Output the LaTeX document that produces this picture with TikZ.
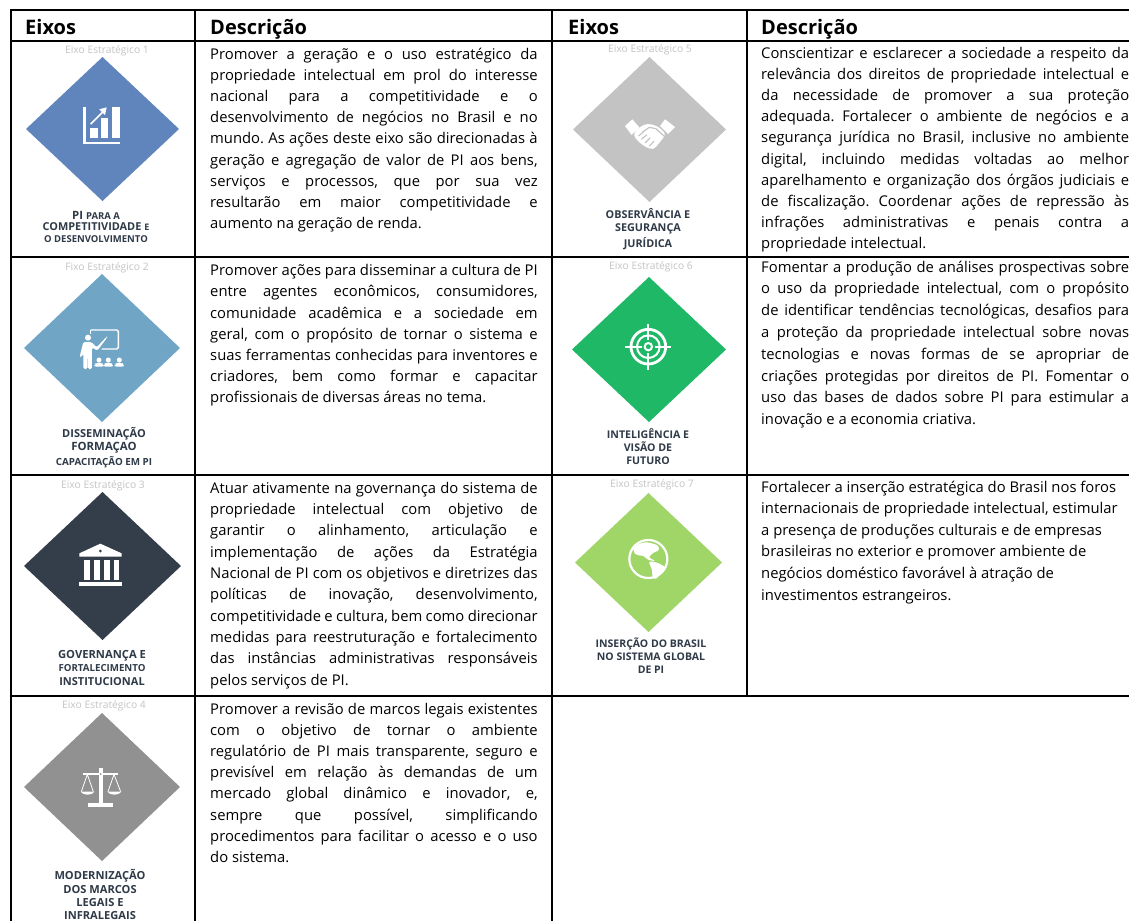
\documentclass[tikz,border=0pt]{standalone}
\usepackage{fontspec}
\usetikzlibrary{calc}
\setmainfont{Open Sans}
\newlength\LW
\newsavebox\LBox
\newcommand\JL[1]{\sbox\LBox{\spaceskip=.13em\relax #1}\ifdim\wd\LBox>\LW\relax\hbox{\resizebox{\LW}{\height}{\usebox\LBox}}\else\hbox to \LW{\spaceskip=.26em plus 1em minus .13em\relax #1}\fi}
\newcommand\RL[1]{\hbox{\spaceskip=.26em\relax #1}}
\newcommand\Desc[6]{\node[desctext] (#1) at (#2,#3) {\frenchspacing\vtop{\setlength\LW{#4pt}\baselineskip=#5pt\relax #6}};}
\newcommand\Fs[1]{\fontsize{#1}{#1}\selectfont}
\definecolor{labcol}{HTML}{2F3A48}
\definecolor{capcol}{HTML}{C4C4C4}
\definecolor{d1}{HTML}{6085BC}
\definecolor{d2}{HTML}{70A5C6}
\definecolor{d3}{HTML}{343E4A}
\definecolor{d4}{HTML}{919191}
\definecolor{d5}{HTML}{C3C3C3}
\definecolor{d6}{HTML}{1FB866}
\definecolor{d7}{HTML}{A0D568}
\tikzset{
 grid/.style={line width=2pt,black},
 headtext/.style={anchor=base west,inner sep=0,font=\Fs{20}\bfseries},
 desctext/.style={anchor=base west,inner sep=0,font=\Fs{14.8},text=black},
 captext/.style={inner sep=0,text=capcol,font=\Fs{10.3}},
 labtext/.style={inner sep=0,text=labcol,align=center,font=\bfseries\Fs{10.5}},
 zoomed/.style={x=0.33333pt,y=-0.33333pt},
}
\begin{document}
\begin{tikzpicture}[x=1pt,y=-1pt]
\useasboundingbox (0,0) rectangle (1129,921);
\fill[white] (0,0) rectangle (1129,921);
% grid
\draw[grid] (10,10) -- (1129,10);
\draw[grid] (10,40.5) -- (1129,40.5);
\draw[grid] (10,256.5) -- (1129,256.5);
\draw[grid] (10,475) -- (1129,475);
\draw[grid] (10,696) -- (1129,696);
\draw[grid] (10.5,9) -- (10.5,921);
\draw[grid] (194.5,9) -- (194.5,921);
\draw[grid] (552,9) -- (552,921);
\draw[grid] (747,9) -- (747,697);
% headers
\node[headtext] (h1) at (25,34) {Eixos};
\node[headtext] (h2) at (210,34) {Descrição};
\node[headtext] (h3) at (568,34) {Eixos};
\node[headtext] (h4) at (761,34) {Descrição};
% diamonds
\fill[d1] (102.5,57) -- (179,129) -- (102.5,201) -- (26,129) -- cycle;
\fill[d2] (102,274) -- (180,348) -- (102,422) -- (24,348) -- cycle;
\fill[d3] (102.5,492) -- (181,566) -- (102.5,640) -- (24,566) -- cycle;
\fill[d4] (102,713) -- (180,787) -- (102,861) -- (24,787) -- cycle;
\fill[d5] (649.5,57) -- (726,129.5) -- (649.5,202) -- (573,129.5) -- cycle;
\fill[d6] (649,277) -- (726,349.5) -- (649,422) -- (572,349.5) -- cycle;
\fill[d7] (648.5,493) -- (722,562.5) -- (648.5,632) -- (575,562.5) -- cycle;
% captions
\node[captext] (c1) at (107,50.5) {Eixo Estratégico 1};
\node[captext] (c2) at (107,267.5) {Fixo Estratégico 2};
\node[captext] (c3) at (103,486) {Eixo Estratégico 3};
\node[captext] (c4) at (104,706) {Eixo Estratégico 4};
\node[captext] (c5) at (650,50) {Eixo Estratégico 5};
\node[captext] (c6) at (651,267) {Eixo Estratégico 6};
\node[captext] (c7) at (652,485) {Eixo Estratégico 7};
% labels
\node[labtext] (l1) at (96,227) {\Fs{11.4}PI \Fs{9.5}PARA A\\[1.2pt]\Fs{10.9}COMPETITIVIDADE \Fs{9}E\\[1.6pt]\Fs{9.5}O DESENVOLVIMENTO};
\node[labtext] (l2) at (104,447.5) {\Fs{11}DISSEMINAÇÃO\\[2pt]\Fs{11.4}FORMAÇAO\\[2pt]\Fs{9.8}CAPACITAÇÃO EM PI};
\node[labtext] (l3) at (102,667.5) {\Fs{11.2}GOVERNANÇA E\\[3pt]\Fs{9.7}FORTALECIMENTO\\[3pt]\Fs{11}INSTITUCIONAL};
\node[labtext] (l4) at (100,894.5) {\Fs{11.1}MODERNIZAÇÃO\\[2.4pt]\Fs{11.1}DOS MARCOS\\[2.4pt]\Fs{11.1}LEGAIS E\\[2.4pt]\Fs{11.1}INFRALEGAIS};
\node[labtext] (l5) at (648,229) {\Fs{10.8}OBSERVÂNCIA E\\[2.4pt]\Fs{10.8}SEGURANÇA\\[2.4pt]\Fs{10.8}JURÍDICA};
\node[labtext] (l6) at (648,446.5) {\Fs{10.6}INTELIGÊNCIA E\\[2.8pt]\Fs{10.6}VISÃO DE\\[2.8pt]\Fs{10.6}FUTURO};
\node[labtext] (l7) at (651,656) {\Fs{10.5}INSERÇÃO DO BRASIL\\[2.6pt]NO SISTEMA GLOBAL\\[2.6pt]DE PI};
% icon 1: chart
\begin{scope}[shift={(0,0)},zoomed]
\fill[white] (250,322) rectangle (257,432);
\fill[white] (250,425) rectangle (360,432);
\fill[white] (270,385) rectangle (293,415);
\fill[white] (302,355) rectangle (325,415);
\fill[white] (335,322) rectangle (360,415);
\draw[white,line width=1.6pt] (272,372) -- (312,332);
\fill[white] (320,322) -- (315,345) -- (298,328) -- cycle;
\end{scope}
% icon 2: teacher
\begin{scope}[shift={(0,260)},zoomed]
\draw[white,line width=1.4pt,rounded corners=1.5pt] (272,210) -- (355,210) -- (355,267) -- (305,267);
\draw[white,line width=1.4pt] (272,210) -- (272,222);
\fill[white] (264,233) circle (9);
\fill[white,rounded corners=1.5pt] (250,246) -- (274,246) -- (290,262) -- (320,230) -- (322,232) -- (292,272) -- (276,262) -- (276,327) -- (264,327) -- (264,292) -- (262,292) -- (262,327) -- (250,327) -- (250,280) -- (244,292) -- (239,290) -- cycle;
\foreach \px in {297,325,358}{
 \fill[white] (\px,300) circle (7.5);
 \fill[white,rounded corners=2pt] (\px-14,320) -- (\px-14,313) -- (\px-7,308) -- (\px+7,308) -- (\px+14,313) -- (\px+14,320) -- cycle;
}
\end{scope}
% icon 3: bank
\begin{scope}[shift={(0,475)},zoomed]
\fill[white] (301,206) -- (365,235) -- (365,245) -- (238,245) -- (238,235) -- cycle;
\fill[d3] (301,228) circle (4.5);
\foreach \cx in {252,282,312,341}{\fill[white] (\cx,254) rectangle (\cx+17,316);}
\fill[white] (238,320) rectangle (365,333);
\end{scope}
% icon 4: scales
\begin{scope}[shift={(0,695)},zoomed]
\fill[white] (298,218) rectangle (308,330);
\fill[white] (250,233) -- (355,233) -- (355,240) -- (250,240) -- cycle;
\fill[white] (265,325) rectangle (340,337);
\draw[white,line width=0.8pt] (262,238) -- (244,290) (262,238) -- (280,290) (342,238) -- (324,290) (342,238) -- (362,290);
\fill[white] (242,290) -- (283,290) .. controls (278,302) and (248,302) .. (242,290) -- cycle;
\fill[white] (322,290) -- (364,290) .. controls (358,302) and (328,302) .. (322,290) -- cycle;
\fill[d4] (302,237) circle (3);
\end{scope}
% icon 5: handshake
\begin{scope}[shift={(550,0)},zoomed]
\fill[white] (225,378) -- (247,358) -- (268,382) -- (245,405) -- cycle;
\fill[white] (345,358) -- (375,381) -- (354,402) -- (330,378) -- cycle;
\fill[white,rounded corners=3pt] (258,390) -- (283,373) -- (303,372) -- (328,382) -- (348,403) -- (315,445) -- (302,448) -- (282,438) -- (262,422) -- (250,405) -- cycle;
\draw[d5,line width=1.2pt,line cap=round] (278,396) -- (298,382) -- (318,386) -- (344,410);
\draw[d5,line width=1.1pt,line cap=round] (266,408) -- (280,396) (275,417) -- (290,405) (286,428) -- (300,414) (298,438) -- (312,424);
\end{scope}
% icon 6: target
\begin{scope}[shift={(550,255)},zoomed]
\draw[white,line width=2.8pt] (295,275) circle (52);
\draw[white,line width=2pt] (295,275) circle (34);
\draw[white,line width=2pt] (295,275) circle (11);
\foreach \a in {0,90,180,270}{
 \draw[white,line width=1.7pt] ($(295,275)+(\a:20)$) -- ($(295,275)+(\a:69)$);
}
\end{scope}
% icon 7: globe
\begin{scope}[shift={(550,470)},zoomed]
\draw[white,line width=2.2pt] (295,267) circle (57);
\fill[white] plot[smooth cycle,tension=0.5] coordinates {(250,238) (262,224) (290,217) (322,226) (326,240) (308,250) (298,262) (314,272) (296,270) (280,258) (266,256) (256,252)};
\fill[white] plot[smooth cycle,tension=0.5] coordinates {(298,276) (320,278) (345,292) (332,308) (320,325) (308,323) (306,300)};
\end{scope}
% descriptions
\Desc{t1}{210}{59.3}{327.5}{21.15}{%
\JL{Promover a geração e o uso estratégico da}
\JL{propriedade intelectual em prol do interesse}
\JL{nacional para a competitividade e o}
\JL{desenvolvimento de negócios no Brasil e no}
\JL{mundo. As ações deste eixo são direcionadas à}
\JL{geração e agregação de valor de PI aos bens,}
\JL{serviços e processos, que por sua vez}
\JL{resultarão em maior competitividade e}
\RL{aumento na geração de renda.}}
\Desc{t2}{210}{275.7}{327.5}{21.2}{%
\JL{Promover ações para disseminar a cultura de PI}
\JL{entre agentes econômicos, consumidores,}
\JL{comunidade acadêmica e a sociedade em}
\JL{geral, com o propósito de tornar o sistema e}
\JL{suas ferramentas conhecidas para inventores e}
\JL{criadores, bem como formar e capacitar}
\RL{profissionais de diversas áreas no tema.}}
\Desc{t3}{210}{493.3}{327.5}{21.3}{%
\JL{Atuar ativamente na governança do sistema de}
\JL{propriedade intelectual com objetivo de}
\JL{garantir o alinhamento, articulação e}
\JL{implementação de ações da Estratégia}
\JL{Nacional de PI com os objetivos e diretrizes das}
\JL{políticas de inovação, desenvolvimento,}
\JL{competitividade e cultura, bem como direcionar}
\JL{medidas para reestruturação e fortalecimento}
\JL{das instâncias administrativas responsáveis}
\RL{pelos serviços de PI.}}
\Desc{t4}{210}{714}{327.5}{21.2}{%
\JL{Promover a revisão de marcos legais existentes}
\JL{com o objetivo de tornar o ambiente}
\JL{regulatório de PI mais transparente, seguro e}
\JL{previsível em relação às demandas de um}
\JL{mercado global dinâmico e inovador, e,}
\JL{sempre que possível, simplificando}
\JL{procedimentos para facilitar o acesso e o uso}
\RL{do sistema.}}
\Desc{t5}{761}{58}{368}{21.2}{%
\JL{Conscientizar e esclarecer a sociedade a respeito da}
\JL{relevância dos direitos de propriedade intelectual e}
\JL{da necessidade de promover a sua proteção}
\JL{adequada. Fortalecer o ambiente de negócios e a}
\JL{segurança jurídica no Brasil, inclusive no ambiente}
\JL{digital, incluindo medidas voltadas ao melhor}
\JL{aparelhamento e organização dos órgãos judiciais e}
\JL{de fiscalização. Coordenar ações de repressão às}
\JL{infrações administrativas e penais contra a}
\RL{propriedade intelectual.}}
\Desc{t6}{761}{272}{368}{21.8}{%
\JL{Fomentar a produção de análises prospectivas sobre}
\JL{o uso da propriedade intelectual, com o propósito}
\JL{de identificar tendências tecnológicas, desafios para}
\JL{a proteção da propriedade intelectual sobre novas}
\JL{tecnologias e novas formas de se apropriar de}
\JL{criações protegidas por direitos de PI. Fomentar o}
\JL{uso das bases de dados sobre PI para estimular a}
\RL{inovação e a economia criativa.}}
\Desc{t7}{761}{492}{368}{21.6}{%
\RL{Fortalecer a inserção estratégica do Brasil nos foros}
\RL{internacionais de propriedade intelectual, estimular}
\RL{a presença de produções culturais e de empresas}
\RL{brasileiras no exterior e promover ambiente de}
\RL{negócios doméstico favorável à atração de}
\RL{investimentos estrangeiros.}}
\end{tikzpicture}
\end{document}
